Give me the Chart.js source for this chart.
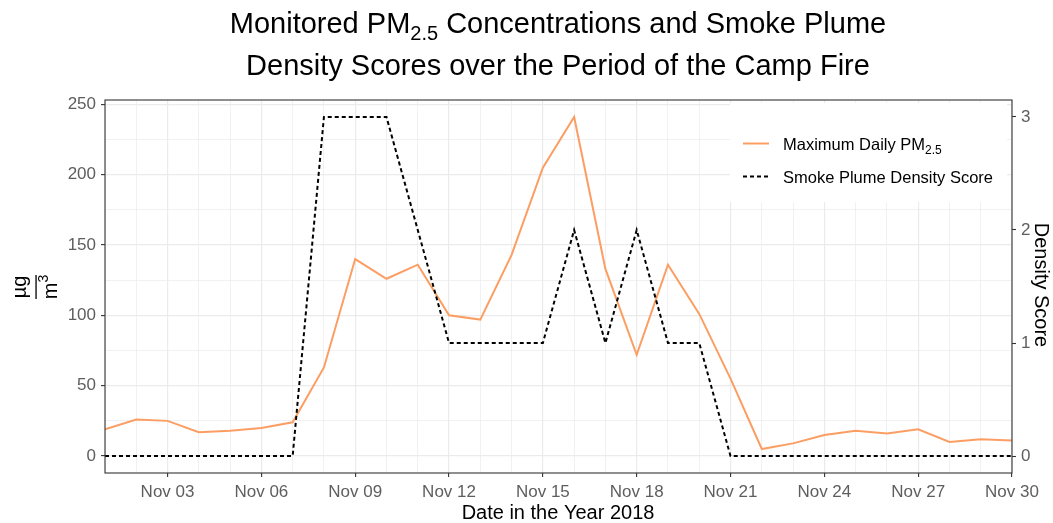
<!DOCTYPE html>
<html>
<head>
<meta charset="utf-8">
<script src="https://cdn.jsdelivr.net/npm/chart.js@4.4.1/dist/chart.umd.min.js"></script>
<style>
  html, body { margin: 0; padding: 0; background: #fff; }
</style>
</head>
<body>
<canvas id="chart" width="1053" height="523"></canvas>
<script>
// November 2018, day of month
const days = [1,2,3,4,5,6,7,8,9,10,11,12,13,14,15,16,17,18,19,20,21,22,23,24,25,26,27,28,29,30];
// maximum daily PM2.5 (µg/m3)
const pm25 = [19,26,25,17,18,20,24,63,140,126,136,100,97,143,205,241,133,72,136,101,55,5,9,15,18,16,19,10,12,11];
// smoke plume density score
const smoke = [0,0,0,0,0,0,0,3,3,3,2,1,1,1,1,2,1,2,1,1,0,0,0,0,0,0,0,0,0,0];

const xLabelDays = [3,6,9,12,15,18,21,24,27,30];
const pmTicks = [0,50,100,150,200,250];
const smokeTicks = [0,1,2,3];

// secondary axis = primary / factor
const factor = 241 / 3;
const pmMin = -12.05, pmMax = 253.05;

const FONT = "'Liberation Sans', Arial, sans-serif";
const orange = "#fc9e63";
const gridCol = "#ebebeb";
const inkCol = "#333333";
const tickTxt = "#5e5e5e";

const pad2 = n => (n < 10 ? "0" : "") + n;

function drawRich(ctx, parts, x, y, align) {
  // parts: [{t, size, dy}]
  let w = 0;
  parts.forEach(p => { ctx.font = p.size + "px " + FONT; w += ctx.measureText(p.t).width; });
  let cx = align === "center" ? x - w / 2 : x;
  ctx.textAlign = "left";
  parts.forEach(p => {
    ctx.font = p.size + "px " + FONT;
    ctx.fillText(p.t, cx, y + (p.dy || 0));
    cx += ctx.measureText(p.t).width;
  });
}

const decor = {
  id: "decor",
  beforeDatasetsDraw(chart) {
    const ctx = chart.ctx;
    // legend box
    ctx.save();
    ctx.fillStyle = "#fff";
    ctx.fillRect(730, 103, 277, 99);
    ctx.restore();
  },
  afterDatasetsDraw(chart) {
    const ctx = chart.ctx;
    const a = chart.chartArea;
    ctx.save();
    // panel border
    ctx.strokeStyle = inkCol;
    ctx.lineWidth = 1.1;
    ctx.strokeRect(a.left, a.top, a.right - a.left, a.bottom - a.top);

    // legend contents
    ctx.fillStyle = "#000";
    ctx.textBaseline = "alphabetic";
    ctx.strokeStyle = orange;
    ctx.lineWidth = 2;
    ctx.beginPath(); ctx.moveTo(743, 143.5); ctx.lineTo(769, 143.5); ctx.stroke();
    drawRich(ctx, [{t: "Maximum Daily PM", size: 16.5}, {t: "2.5", size: 12, dy: 4}], 783, 150, "left");
    ctx.strokeStyle = "#000";
    ctx.setLineDash([4, 3]);
    ctx.beginPath(); ctx.moveTo(743, 176.5); ctx.lineTo(769, 176.5); ctx.stroke();
    ctx.setLineDash([]);
    drawRich(ctx, [{t: "Smoke Plume Density Score", size: 16.5}], 783, 183, "left");
    ctx.restore();
  },
  afterDraw(chart) {
    const ctx = chart.ctx;
    ctx.save();
    ctx.fillStyle = "#000";
    ctx.textBaseline = "alphabetic";
    // title
    drawRich(ctx, [
      {t: "Monitored PM", size: 29},
      {t: "2.5", size: 20, dy: 7},
      {t: " Concentrations and Smoke Plume", size: 29}
    ], 558, 33, "center");
    drawRich(ctx, [{t: "Density Scores over the Period of the Camp Fire", size: 29}], 558, 75, "center");

    // x title
    ctx.font = "20px " + FONT;
    ctx.textAlign = "center";
    ctx.fillText("Date in the Year 2018", 558, 519);

    // left title: fraction µg / m3
    ctx.save();
    ctx.translate(36, 287);
    ctx.rotate(-Math.PI / 2);
    ctx.font = "20px " + FONT;
    ctx.textAlign = "center";
    ctx.fillText("\u00b5g", 0, -10);
    ctx.fillRect(-12, -0.6, 24, 1.3);
    drawRich(ctx, [{t: "m", size: 20}, {t: "3", size: 14, dy: -9}], 0, 21, "center");
    ctx.restore();

    // right title
    ctx.save();
    ctx.translate(1041, 285);
    ctx.rotate(Math.PI / 2);
    ctx.font = "20px " + FONT;
    ctx.textAlign = "center";
    ctx.textBaseline = "middle";
    ctx.fillText("Density Score", 0, 0);
    ctx.restore();
    ctx.restore();
  }
};

const ctx = document.getElementById("chart");
const chart = new Chart(ctx, {
  type: "line",
  data: {
    datasets: [{
      label: "Maximum Daily PM2.5",
      data: days.map((d, i) => ({x: d, y: pm25[i]})),
      borderColor: orange,
      borderWidth: 2,
      pointRadius: 0,
      tension: 0,
      yAxisID: "y",
      order: 2
    }, {
      label: "Smoke Plume Density Score",
      data: days.map((d, i) => ({x: d, y: smoke[i]})),
      borderColor: "#000",
      borderWidth: 2,
      borderDash: [4, 3],
      pointRadius: 0,
      tension: 0,
      yAxisID: "y2",
      order: 1
    }]
  },
  options: {
    responsive: false,
    animation: false,
    devicePixelRatio: 1,
    layout: { padding: { top: 100, left: 0, right: 0, bottom: 0 } },
    plugins: {
      legend: { display: false },
      title: { display: false },
      tooltip: { enabled: false }
    },
    scales: {
      x: {
        type: "linear",
        min: 1,
        max: 30,
        afterBuildTicks: s => { s.ticks = days.map(d => ({value: d})); },
        afterFit: s => { s.height = 50; },
        ticks: {
          autoSkip: false,
          maxRotation: 0,
          padding: 5,
          color: tickTxt,
          font: { family: FONT, size: 17 },
          callback: v => (xLabelDays.includes(v) ? "Nov " + pad2(v) : "")
        },
        grid: {
          color: gridCol,
          lineWidth: c => (c.tick && xLabelDays.includes(c.tick.value) ? 1.2 : 0.7),
          tickColor: c => (c.tick && xLabelDays.includes(c.tick.value) ? inkCol : "rgba(0,0,0,0)"),
          tickWidth: 1.1,
          tickLength: 4
        },
        border: { display: false }
      },
      y: {
        position: "left",
        min: pmMin,
        max: pmMax,
        afterBuildTicks: s => { s.ticks = [0,25,50,75,100,125,150,175,200,225,250].map(v => ({value: v})); },
        afterFit: s => { s.width = 105; },
        ticks: {
          padding: 5,
          color: tickTxt,
          font: { family: FONT, size: 17 },
          callback: v => (pmTicks.includes(v) ? String(v) : "")
        },
        grid: {
          color: gridCol,
          lineWidth: c => (c.tick && pmTicks.includes(c.tick.value) ? 1.2 : 0.7),
          tickColor: c => (c.tick && pmTicks.includes(c.tick.value) ? inkCol : "rgba(0,0,0,0)"),
          tickWidth: 1.1,
          tickLength: 4
        },
        border: { display: false }
      },
      y2: {
        position: "right",
        min: pmMin / factor,
        max: pmMax / factor,
        afterBuildTicks: s => { s.ticks = smokeTicks.map(v => ({value: v})); },
        afterFit: s => { s.width = 41; },
        ticks: {
          padding: 5,
          color: tickTxt,
          font: { family: FONT, size: 17 },
          callback: v => String(v)
        },
        grid: {
          drawOnChartArea: false,
          tickColor: inkCol,
          tickWidth: 1.1,
          tickLength: 4
        },
        border: { display: false }
      }
    }
  },
  plugins: [decor]
});
</script>
</body>
</html>
